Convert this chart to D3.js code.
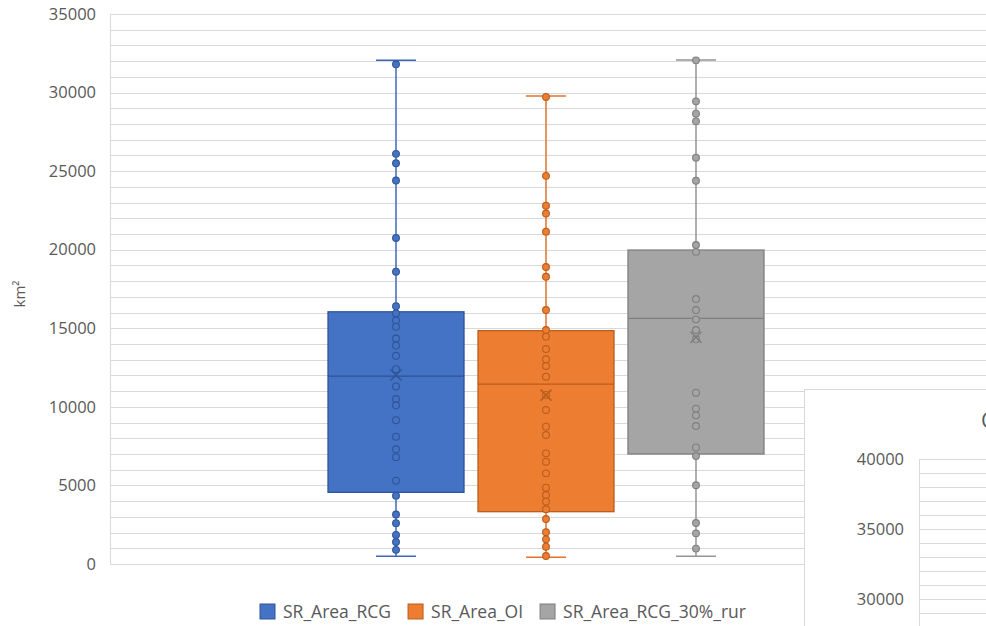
<!DOCTYPE html>
<html><head><meta charset="utf-8">
<script src="https://cdn.jsdelivr.net/npm/d3@7/dist/d3.min.js"></script>
<style>body{margin:0;background:#fff;overflow:hidden} svg{display:block}</style>
</head><body>
<svg id="c" width="986" height="626"></svg>
<script>
// ---------- data ----------
const seriesNames = ["SR_Area_RCG", "SR_Area_OI", "SR_Area_RCG_30%_rur"];
const q1Values      = [4560, 3330, 7000];
const medianValues  = [11950, 11450, 15630];
const q3Values      = [16050, 14850, 19980];
const meanValues    = [12030, 10750, 14430];
const whiskerLow    = [500, 430, 490];
const whiskerHigh   = [32050, 29780, 32070];
const pointsRCG = [31800, 26100, 25500, 24400, 20750, 18600, 16400, 15950, 15500, 15100, 14350, 13900, 13250, 12400, 11300, 10500, 10100, 9150, 8100, 7300, 6800, 5300, 4350, 3150, 2600, 1850, 1400, 900];
const pointsOI  = [29720, 24700, 22800, 22300, 21150, 18900, 18280, 16160, 14890, 14470, 13680, 13030, 12600, 11920, 10760, 9800, 8740, 8210, 7040, 6510, 5770, 4860, 4390, 3970, 3480, 2860, 2020, 1570, 1100, 510];
const pointsRur = [32050, 29440, 28660, 28170, 25860, 24390, 20300, 19860, 16860, 16160, 15570, 14890, 14300, 10900, 9890, 9460, 8780, 7420, 6870, 5010, 2610, 1950, 980];
const yTickLabels = [0, 5000, 10000, 15000, 20000, 25000, 30000, 35000];
const yAxisTitle = "km²";
const insetTickLabels = [30000, 35000, 40000];
const insetTitle = "Chart Title";

// ---------- styles ----------
const fills   = ["#4472C4", "#ED7D31", "#A5A5A5"];
const strokes = ["#2F5597", "#B95E1F", "#7F7F7F"];
const whiskerCols = ["#3F69B8", "#E0722A", "#959595"];
const gridCol = "#D9D9D9";
const textCol = "#595959";
const FONT = "'Open Sans', 'Segoe UI', sans-serif";

const svg = d3.select("#c");
const points = [pointsRCG, pointsOI, pointsRur];

// ---------- scales ----------
const plotLeft = 110, plotRight = 982, plotTop = 14, plotBottom = 564;
const y = d3.scaleLinear().domain([0, 35000]).range([plotBottom, plotTop]);
const xCat = d3.scaleBand().domain([""]).range([plotLeft, plotRight]).paddingInner(0).paddingOuter(0.4689);
const xSer = d3.scaleBand().domain(seriesNames).range([xCat(""), xCat("") + xCat.bandwidth()])
  .paddingInner(0.0933).paddingOuter(0.0467);
const crisp = v => Math.round(v) + 0.5;

// ---------- gridlines ----------
const gridVals = d3.range(0, 35001, 1000);
svg.append("g").selectAll("line").data(gridVals).join("line")
  .attr("x1", plotLeft).attr("x2", 986)
  .attr("y1", d => crisp(y(d))).attr("y2", d => crisp(y(d)))
  .attr("stroke", gridCol).attr("stroke-width", 1);
svg.append("line").attr("x1", plotLeft + 0.5).attr("x2", plotLeft + 0.5)
  .attr("y1", y(35000)).attr("y2", y(0)).attr("stroke", gridCol);

// y axis labels
const yAxis = d3.axisLeft(y).tickValues(yTickLabels).tickSize(0).tickPadding(14).tickFormat(d3.format("d"));
const gy = svg.append("g").attr("transform", `translate(${plotLeft},0)`).call(yAxis);
gy.select(".domain").remove();
gy.selectAll("text").attr("fill", textCol).style("font-family", FONT).style("font-size", "16.5px");

svg.append("text").attr("transform", `translate(25,294) rotate(-90)`)
  .attr("text-anchor", "middle").attr("fill", textCol)
  .style("font-family", FONT).style("font-size", "15px").text(yAxisTitle);

// ---------- boxes ----------
const bw = xSer.bandwidth();
const capW = 40;
seriesNames.forEach((name, i) => {
  const g = svg.append("g");
  const cx = xSer(name) + bw / 2;
  // whiskers
  g.append("line").attr("x1", cx).attr("x2", cx).attr("y1", y(whiskerHigh[i])).attr("y2", y(q3Values[i]))
    .attr("stroke", whiskerCols[i]).attr("stroke-width", 1.5);
  g.append("line").attr("x1", cx).attr("x2", cx).attr("y1", y(q1Values[i])).attr("y2", y(whiskerLow[i]))
    .attr("stroke", whiskerCols[i]).attr("stroke-width", 1.5);
  [whiskerHigh[i], whiskerLow[i]].forEach(v => {
    g.append("line").attr("x1", cx - capW / 2).attr("x2", cx + capW / 2)
      .attr("y1", y(v)).attr("y2", y(v)).attr("stroke", whiskerCols[i]).attr("stroke-width", 1.5);
  });
  // box
  g.append("rect").attr("x", xSer(name)).attr("width", bw)
    .attr("y", y(q3Values[i])).attr("height", y(q1Values[i]) - y(q3Values[i]))
    .attr("fill", fills[i]).attr("stroke", strokes[i]).attr("stroke-width", 1.3);
  // median
  g.append("line").attr("x1", xSer(name)).attr("x2", xSer(name) + bw)
    .attr("y1", y(medianValues[i])).attr("y2", y(medianValues[i]))
    .attr("stroke", strokes[i]).attr("stroke-width", 1.2);
  // points
  g.selectAll("circle").data(points[i]).join("circle")
    .attr("cx", cx).attr("cy", d => y(d)).attr("r", 3.4)
    .attr("fill", fills[i]).attr("stroke", strokes[i]).attr("stroke-width", 1.1);
  // mean X
  const my = y(meanValues[i]), s = 5.5;
  g.append("path").attr("d", `M${cx - s},${my - s}L${cx + s},${my + s}M${cx - s},${my + s}L${cx + s},${my - s}`)
    .attr("stroke", strokes[i]).attr("stroke-width", 1.6).attr("fill", "none");
});

// ---------- legend ----------
const legend = svg.append("g");
let lx = 260;
seriesNames.forEach((name, i) => {
  legend.append("rect").attr("x", lx).attr("y", 604).attr("width", 15).attr("height", 15)
    .attr("fill", fills[i]).attr("stroke", strokes[i]).attr("stroke-width", 1);
  const t = legend.append("text").attr("x", lx + 23).attr("y", 618)
    .attr("fill", textCol).style("font-family", FONT).style("font-size", "17.5px").text(name);
  lx = lx + 23 + t.node().getComputedTextLength() + 17;
});

// ---------- overlapping second chart (bottom right) ----------
const inset = svg.append("g");
inset.append("rect").attr("x", 804.5).attr("y", 389.5).attr("width", 300).attr("height", 300)
  .attr("fill", "#fff").attr("stroke", gridCol).attr("stroke-width", 1);
const y2 = d3.scaleLinear().domain([30000, 40000]).range([599, 459]);
const insetGrid = d3.range(27000, 40001, 1000);
inset.selectAll("line.g").data(insetGrid).join("line").attr("class", "g")
  .attr("x1", 919).attr("x2", 986).attr("y1", d => crisp(y2(d))).attr("y2", d => crisp(y2(d)))
  .attr("stroke", gridCol);
inset.append("line").attr("x1", 919.5).attr("x2", 919.5).attr("y1", y2(40000)).attr("y2", 626).attr("stroke", gridCol);
const ax2 = d3.axisLeft(y2).tickValues(insetTickLabels).tickSize(0).tickPadding(15).tickFormat(d3.format("d"));
const g2 = inset.append("g").attr("transform", "translate(919,0)").call(ax2);
g2.select(".domain").remove();
g2.selectAll("text").attr("fill", textCol).style("font-family", FONT).style("font-size", "16.5px");
inset.append("text").attr("x", 981).attr("y", 428).attr("fill", textCol)
  .style("font-family", FONT).style("font-size", "21px").text(insetTitle);
</script>
</body></html>
